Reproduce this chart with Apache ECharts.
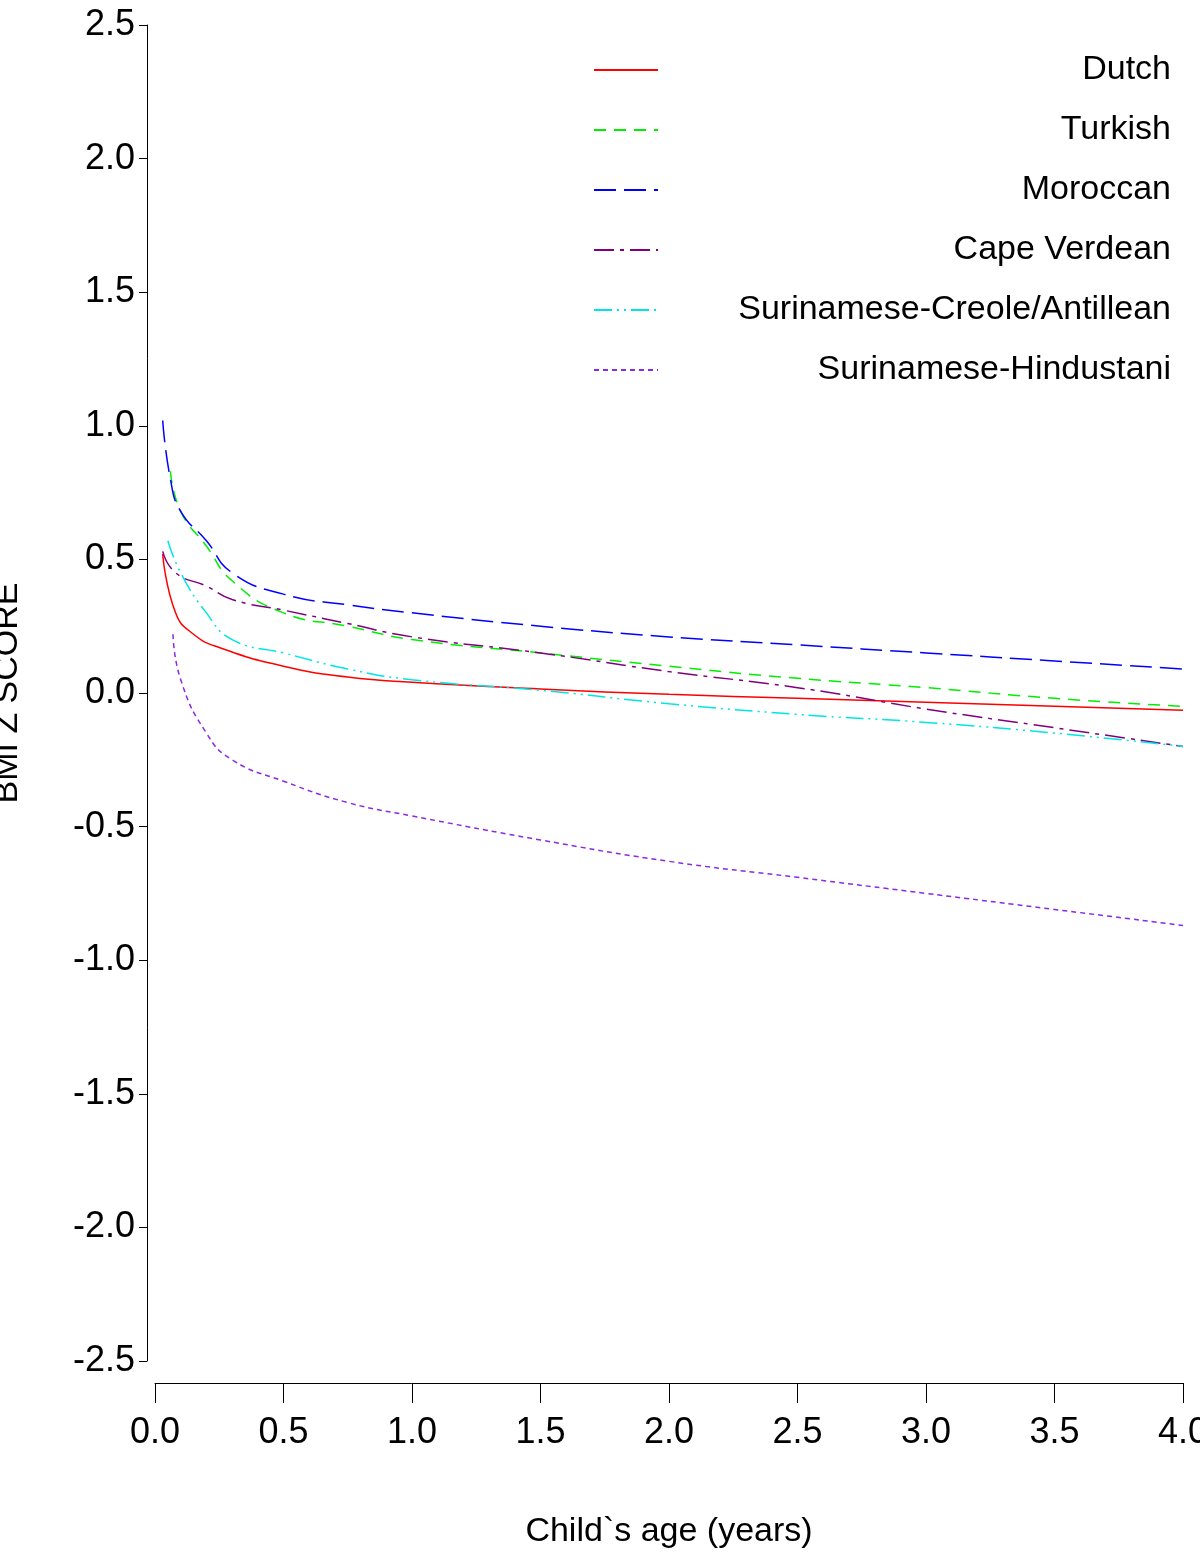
<!DOCTYPE html>
<html>
<head>
<meta charset="utf-8">
<script src="https://cdn.jsdelivr.net/npm/echarts@6/dist/echarts.min.js"></script>
<style>html,body{margin:0;padding:0;background:#fff}#chart{width:1200px;height:1563px}</style>
</head>
<body>
<div id="chart"></div>
<script>
// data: [age (years), BMI z score]
var dutch = [[0.03,0.52],[0.08,0.3],[0.15,0.22],[0.25,0.17],[0.5,0.1],[0.75,0.06],[1.0,0.04],[1.5,0.015],[2.0,-0.005],[2.5,-0.02],[3.0,-0.035],[3.5,-0.05],[4.0,-0.065]];
var turkish = [[0.06,0.83],[0.1,0.68],[0.2,0.55],[0.3,0.42],[0.5,0.3],[0.75,0.25],[1.0,0.2],[1.5,0.15],[2.0,0.1],[2.5,0.055],[3.0,0.02],[3.5,-0.02],[4.0,-0.05]];
var moroccan = [[0.03,1.02],[0.06,0.8],[0.1,0.68],[0.2,0.57],[0.3,0.45],[0.5,0.37],[0.75,0.33],[1.0,0.3],[1.5,0.25],[2.0,0.21],[2.5,0.18],[3.0,0.15],[3.5,0.12],[4.0,0.09]];
var capeVerdean = [[0.03,0.53],[0.08,0.45],[0.2,0.4],[0.3,0.35],[0.5,0.31],[0.75,0.26],[1.0,0.21],[1.5,0.15],[2.0,0.08],[2.5,0.02],[3.0,-0.06],[3.5,-0.13],[4.0,-0.2]];
var creole = [[0.05,0.57],[0.1,0.45],[0.2,0.3],[0.3,0.2],[0.5,0.15],[0.75,0.09],[1.0,0.05],[1.5,0.01],[2.0,-0.04],[2.5,-0.08],[3.0,-0.11],[3.5,-0.15],[4.0,-0.2]];
var hindustani = [[0.07,0.22],[0.1,0.05],[0.2,-0.15],[0.3,-0.25],[0.5,-0.33],[0.75,-0.41],[1.0,-0.46],[1.5,-0.55],[2.0,-0.63],[2.5,-0.69],[3.0,-0.75],[3.5,-0.81],[4.0,-0.87]];
var names = ["Dutch","Turkish","Moroccan","Cape Verdean","Surinamese-Creole/Antillean","Surinamese-Hindustani"];

var font = "Liberation Sans, Arial, sans-serif";
function line(name, data, color, dash) {
    return {
        name: name, type: "line", smooth: true, symbol: "none", showSymbol: false, data: data,
        lineStyle: {color: color, width: 1.5, type: dash}, itemStyle: {color: color}
    };
}

var chart = echarts.init(document.getElementById("chart"));
chart.setOption({
    animation: false,
    grid: {left: 155, right: 17, top: 25, bottom: 202, outerBoundsMode: "none", containLabel: false},
    legend: {
        orient: "vertical", left: 588, top: 48, itemWidth: 64, itemHeight: 20, itemGap: 26,
        data: names,
        itemStyle: {opacity: 0},
        formatter: function(n) { return "{a|" + n + "}"; },
        textStyle: {
            fontFamily: font, fontSize: 34, color: "#000",
            rich: {a: {fontFamily: font, fontSize: 34, color: "#000", width: 508, align: "right"}}
        }
    },
    xAxis: {
        type: "value", min: 0, max: 4, interval: 0.5, offset: 22,
        name: "Child`s age (years)", nameLocation: "middle", nameGap: 132,
        nameTextStyle: {fontFamily: font, fontSize: 34, color: "#000"},
        axisLine: {onZero: false, lineStyle: {color: "#000"}},
        axisTick: {length: 20, lineStyle: {color: "#000"}},
        axisLabel: {fontFamily: font, fontSize: 36, color: "#000", margin: 32, formatter: function(v){return v.toFixed(1);}},
        splitLine: {show: false}
    },
    yAxis: {
        type: "value", min: -2.5, max: 2.5, interval: 0.5, offset: 8,
        name: "BMI Z SCORE", nameLocation: "middle", nameGap: 122,
        nameTextStyle: {fontFamily: font, fontSize: 34, color: "#000"},
        axisLine: {show: true, onZero: false, lineStyle: {color: "#000"}},
        axisTick: {show: true, length: 8, lineStyle: {color: "#000"}},
        axisLabel: {fontFamily: font, fontSize: 36, color: "#000", margin: 12, formatter: function(v){return v.toFixed(1);}},
        splitLine: {show: false}
    },
    series: [
        line(names[0], dutch, "#ff0000", "solid"),
        line(names[1], turkish, "#00ee00", [12, 8]),
        line(names[2], moroccan, "#0000ff", [22, 8]),
        line(names[3], capeVerdean, "#800080", [20, 6, 4, 6]),
        line(names[4], creole, "#00e5e5", [18, 5, 2, 5, 2, 5]),
        line(names[5], hindustani, "#8a2be2", [5, 4])
    ]
});
</script>
</body>
</html>
